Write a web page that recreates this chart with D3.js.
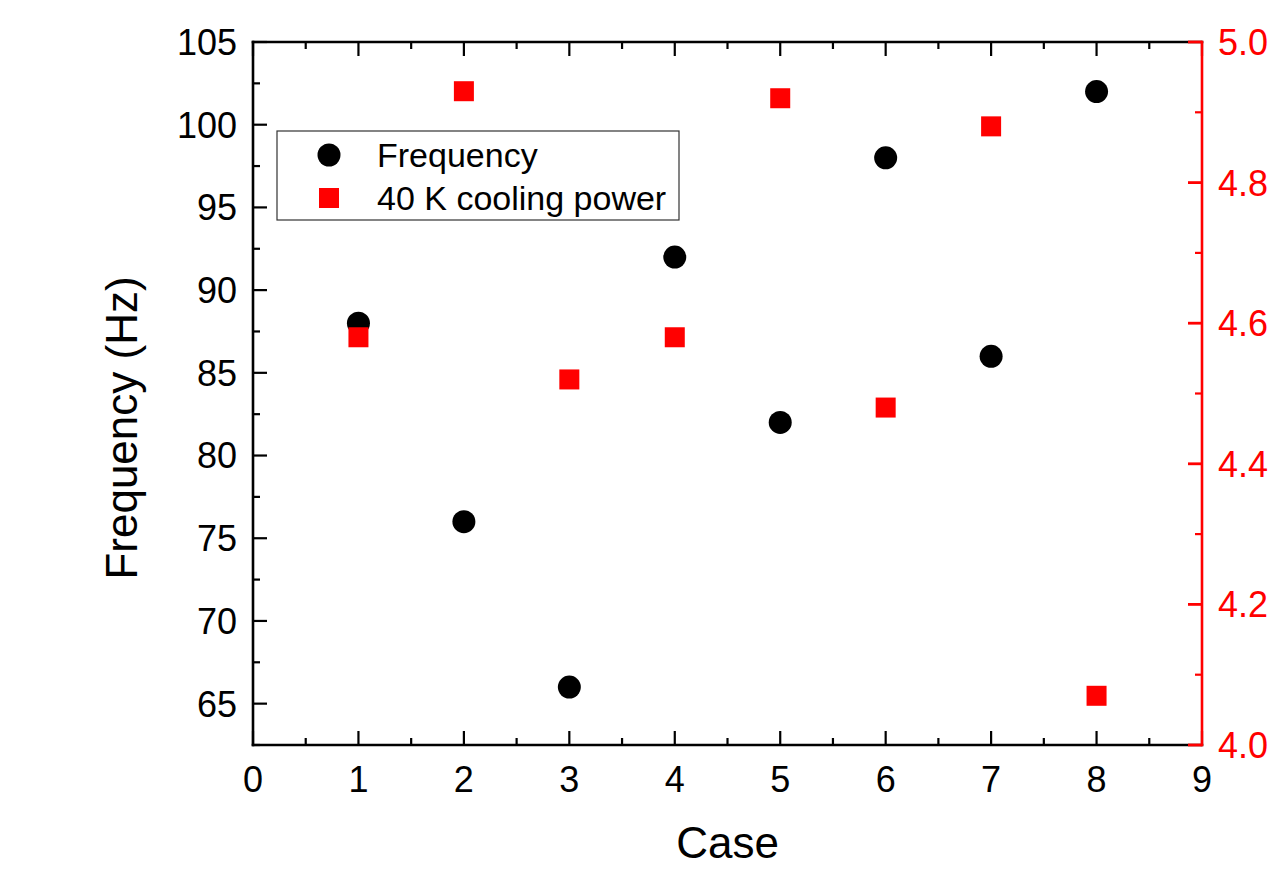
<!DOCTYPE html>
<html>
<head>
<meta charset="utf-8">
<script src="https://cdn.jsdelivr.net/npm/d3@7"></script>
<style>
  html, body { margin: 0; padding: 0; background: #fff; }
  svg { display: block; font-family: "Liberation Sans", Arial, sans-serif; }
</style>
</head>
<body>
<svg id="chart" width="1275" height="878"></svg>
<script>
const cases = [1, 2, 3, 4, 5, 6, 7, 8];
const frequency = [88, 76, 66, 92, 82, 98, 86, 102];
const coolingPower = [4.58, 4.93, 4.52, 4.58, 4.92, 4.48, 4.88, 4.07];
const xTicks = [0, 1, 2, 3, 4, 5, 6, 7, 8, 9];
const yLeftTicks = [65, 70, 75, 80, 85, 90, 95, 100, 105];
const yRightTicks = [4.0, 4.2, 4.4, 4.6, 4.8, 5.0];
const seriesNames = ["Frequency", "40 K cooling power"];

(function () {
const svg = d3.select("#chart");
const L = 253, R = 1202, T = 42, B = 745;

const x = d3.scaleLinear().domain([0, 9]).range([L, R]);
const yL = d3.scaleLinear().domain([62.5, 105]).range([B, T]);
const yR = d3.scaleLinear().domain([4.0, 5.0]).range([B, T]);

const majorLen = 14, minorLen = 7;
const axisW = 2.6, tickW = 2.2;
const red = "#ff0000";
const tickFont = 36;

const xMinor = d3.range(0.5, 9, 1);
const yLMinor = d3.range(62.5, 105, 5);
const yRMinor = d3.range(4.1, 5.0, 0.2).map(v => +v.toFixed(1));

const g = svg.append("g");

// Bottom axis
const gBottom = g.append("g");
gBottom.selectAll("line.maj").data(xTicks).join("line").attr("class", "maj")
  .attr("x1", d => x(d)).attr("x2", d => x(d))
  .attr("y1", B).attr("y2", B - majorLen)
  .attr("stroke", "#000").attr("stroke-width", tickW);
gBottom.selectAll("line.min").data(xMinor).join("line").attr("class", "min")
  .attr("x1", d => x(d)).attr("x2", d => x(d))
  .attr("y1", B).attr("y2", B - minorLen)
  .attr("stroke", "#000").attr("stroke-width", tickW);
gBottom.selectAll("text").data(xTicks).join("text")
  .attr("x", d => x(d)).attr("y", 792)
  .attr("text-anchor", "middle").attr("font-size", tickFont).attr("fill", "#000")
  .text(d => d);

// Top axis
const gTop = g.append("g");
gTop.selectAll("line.maj").data(xTicks).join("line").attr("class", "maj")
  .attr("x1", d => x(d)).attr("x2", d => x(d))
  .attr("y1", T).attr("y2", T + majorLen)
  .attr("stroke", "#000").attr("stroke-width", tickW);
gTop.selectAll("line.min").data(xMinor).join("line").attr("class", "min")
  .attr("x1", d => x(d)).attr("x2", d => x(d))
  .attr("y1", T).attr("y2", T + minorLen)
  .attr("stroke", "#000").attr("stroke-width", tickW);

// Left axis
const gLeft = g.append("g");
gLeft.selectAll("line.maj").data(yLeftTicks).join("line").attr("class", "maj")
  .attr("x1", L).attr("x2", L + majorLen)
  .attr("y1", d => yL(d)).attr("y2", d => yL(d))
  .attr("stroke", "#000").attr("stroke-width", tickW);
gLeft.selectAll("line.min").data(yLMinor).join("line").attr("class", "min")
  .attr("x1", L).attr("x2", L + minorLen)
  .attr("y1", d => yL(d)).attr("y2", d => yL(d))
  .attr("stroke", "#000").attr("stroke-width", tickW);
gLeft.selectAll("text").data(yLeftTicks).join("text")
  .attr("x", L - 16).attr("y", d => yL(d)).attr("dy", "0.36em")
  .attr("text-anchor", "end").attr("font-size", tickFont).attr("fill", "#000")
  .text(d => d);

// axis lines (black)
g.append("line").attr("x1", L).attr("x2", R).attr("y1", B).attr("y2", B)
  .attr("stroke", "#000").attr("stroke-width", axisW).attr("stroke-linecap", "square");
g.append("line").attr("x1", L).attr("x2", R).attr("y1", T).attr("y2", T)
  .attr("stroke", "#000").attr("stroke-width", axisW).attr("stroke-linecap", "square");
g.append("line").attr("x1", L).attr("x2", L).attr("y1", T).attr("y2", B)
  .attr("stroke", "#000").attr("stroke-width", axisW).attr("stroke-linecap", "square");

// Right axis (red)
const gRight = g.append("g");
gRight.selectAll("line.maj").data(yRightTicks).join("line").attr("class", "maj")
  .attr("x1", R).attr("x2", R - majorLen)
  .attr("y1", d => yR(d)).attr("y2", d => yR(d))
  .attr("stroke", red).attr("stroke-width", tickW + 0.6);
gRight.selectAll("line.min").data(yRMinor).join("line").attr("class", "min")
  .attr("x1", R).attr("x2", R - minorLen)
  .attr("y1", d => yR(d)).attr("y2", d => yR(d))
  .attr("stroke", red).attr("stroke-width", tickW);
gRight.append("line").attr("x1", R).attr("x2", R).attr("y1", T).attr("y2", B)
  .attr("stroke", red).attr("stroke-width", axisW).attr("stroke-linecap", "square");
gRight.selectAll("text").data(yRightTicks).join("text")
  .attr("x", R + 16).attr("y", d => yR(d)).attr("dy", "0.36em")
  .attr("text-anchor", "start").attr("font-size", tickFont).attr("fill", red)
  .text(d => d.toFixed(1));

// Axis titles
svg.append("text").attr("x", (L + R) / 2).attr("y", 858)
  .attr("text-anchor", "middle").attr("font-size", 44).attr("fill", "#000")
  .text("Case");
svg.append("text").attr("transform", "translate(137,428) rotate(-90)")
  .attr("text-anchor", "middle").attr("font-size", 44).attr("fill", "#000")
  .text("Frequency (Hz)");

// Data: circles then squares
const circR = 11.5, sq = 20;
svg.append("g").selectAll("circle").data(cases).join("circle")
  .attr("cx", d => x(d)).attr("cy", (d, i) => yL(frequency[i]))
  .attr("r", circR).attr("fill", "#000");
svg.append("g").selectAll("rect").data(cases).join("rect")
  .attr("x", d => x(d) - sq / 2).attr("y", (d, i) => yR(coolingPower[i]) - sq / 2)
  .attr("width", sq).attr("height", sq).attr("fill", red);

// Legend
const lg = svg.append("g");
lg.append("rect").attr("x", 277).attr("y", 131).attr("width", 402).attr("height", 89)
  .attr("fill", "#fff").attr("stroke", "#333").attr("stroke-width", 1.2);
lg.append("circle").attr("cx", 329).attr("cy", 155).attr("r", circR).attr("fill", "#000");
lg.append("rect").attr("x", 329 - sq / 2).attr("y", 198 - sq / 2).attr("width", sq).attr("height", sq).attr("fill", red);
lg.selectAll("text").data(seriesNames).join("text")
  .attr("x", 377).attr("y", (d, i) => [155, 198][i]).attr("dy", "0.36em")
  .attr("font-size", 34).attr("fill", "#000")
  .text(d => d);
})();
</script>
</body>
</html>
